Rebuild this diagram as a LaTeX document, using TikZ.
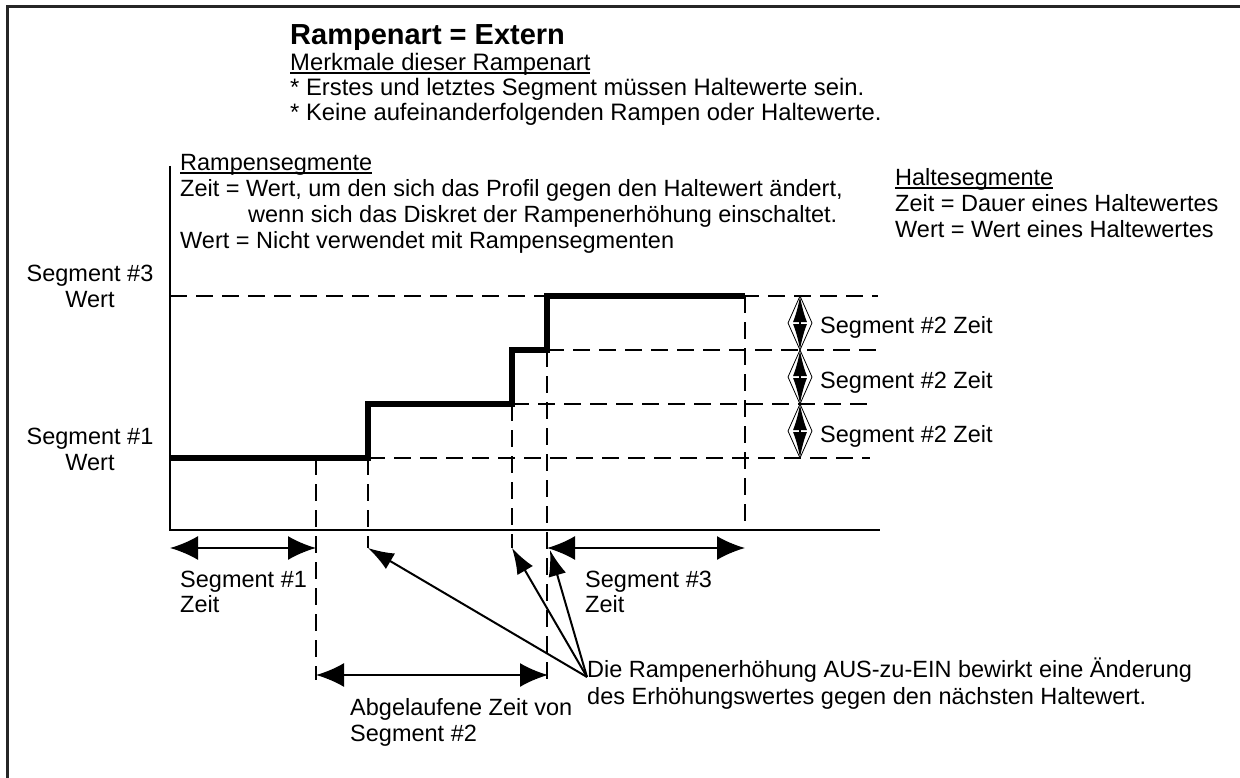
\documentclass[tikz,border=0pt]{standalone}
\usepackage{fontspec}
\setmainfont{Liberation Sans}
\usetikzlibrary{arrows.meta,calc}
\newcommand{\tst}{\rule{0pt}{21pt}}
\newcommand{\tsts}{\rule{0pt}{16pt}}
\newcommand{\ulx}[1]{\sbox0{#1}\rlap{\rule[-3.5pt]{\wd0}{1.6pt}}\usebox0}
\begin{document}
\begin{tikzpicture}[x=1pt,y=-1pt,
  txt/.style={inner sep=0pt, anchor=north west, align=left, font=\fontsize{23.5}{26}\selectfont},
  ltxt/.style={inner sep=0pt, anchor=base west, font=\fontsize{23.5}{26}\selectfont},
  ctxt/.style={txt, anchor=north, align=center},
  gridline/.style={line width=1.8pt, dash pattern=on 17pt off 9pt},
  axisline/.style={line width=2pt},
  profile/.style={line width=6pt, line join=miter},
  dimarrow/.style={line width=2pt, {Latex[length=28pt,width=24pt]}-{Latex[length=28pt,width=24pt]}},
  vdimarrow/.style={line width=2pt, {Latex[length=26pt,width=14pt]}-{Latex[length=26pt,width=14pt]}},
  diamondline/.style={line width=0.8pt},
  pointer/.style={line width=2pt, -{Latex[length=26pt,width=18pt]}}
]
\useasboundingbox (0,0) rectangle (1240,778);
% frame
\draw[line width=3pt, black!85] (7,778) -- (7,7) -- (1240,7);

% coordinates
\coordinate (ytop) at (170,166);
\coordinate (o) at (170,530);
\coordinate (xend) at (880,530);
\coordinate (s1) at (170,458);
\coordinate (a1) at (368,458);
\coordinate (a2) at (368,404);
\coordinate (b1) at (512,404);
\coordinate (b2) at (512,350);
\coordinate (c1) at (547,350);
\coordinate (c2) at (547,296);
\coordinate (e3) at (745,296);
\coordinate (h3l) at (170,296);
\coordinate (h3r) at (878,296);
\coordinate (h2r) at (878,350);
\coordinate (h1r) at (875,404);
\coordinate (h0r) at (870,458);
\coordinate (v1t) at (316,458);
\coordinate (v1b) at (316,680);
\coordinate (va) at (368,548);
\coordinate (vb) at (512,548);
\coordinate (vcb) at (547,680);
\coordinate (vet) at (745,530);
\coordinate (d0) at (800,296);
\coordinate (d1) at (800,350);
\coordinate (d2) at (800,404);
\coordinate (d3) at (800,458);
\coordinate (ar1l) at (170,548);
\coordinate (ar1r) at (316,548);
\coordinate (ar3l) at (547,548);
\coordinate (ar3r) at (745,548);
\coordinate (abl) at (316,675);
\coordinate (abr) at (548,675);
\coordinate (src) at (587,677);
\coordinate (pc) at (550,550);

% dashed grid
\draw[gridline] (h3l) -- (h3r);
\draw[gridline] (c1) -- (h2r);
\draw[gridline] (b1) -- (h1r);
\draw[gridline] (a1) -- (h0r);
\draw[gridline] (v1t) -- (v1b);
\draw[gridline] (a1) -- (va);
\draw[gridline] (b1) -- (vb);
\draw[gridline] (c1) -- (vcb);
\draw[gridline] (e3) -- (vet);

% axes
\draw[axisline] (ytop) -- (o) -- (xend);

% profile
\draw[profile] (s1) -- (a1) -- (a2) -- (b1) -- (b2) -- (c1) -- (c2) -- (e3);

% dimension arrows
\draw[dimarrow] (ar1l) -- (ar1r);
\draw[dimarrow] (ar3l) -- (ar3r);
\draw[dimarrow] (abl) -- (abr);
\foreach \p/\q in {d0/d1, d1/d2, d2/d3}{
  \draw[vdimarrow] (\p) -- (\q);
  \draw[diamondline] (\p) -- ($(\p)!0.5!(\q)+(12,0)$) -- (\q) -- ($(\p)!0.5!(\q)+(-12,0)$) -- cycle;
}

% pointer arrows
\draw[pointer] (src) -- (va);
\draw[pointer] (src) -- (vb);
\draw[pointer] (src) -- (pc);

% texts
\node[inner sep=0pt, anchor=base west, font=\fontsize{29}{32}\selectfont\bfseries] (title) at (290,45) {Rampenart = Extern};
\node[txt, font=\fontsize{23.8}{25}\selectfont] (merk) at (290,53) {\tsts\ulx{Merkmale dieser Rampenart}\\* Erstes und letztes Segment müssen Haltewerte sein.\\* Keine aufeinanderfolgenden Rampen oder Haltewerte.};
\node[txt] (rs) at (180,149) {\tst\ulx{Rampensegmente}\\Zeit = Wert, um den sich das Profil gegen den Haltewert ändert,\\\hspace*{68pt}wenn sich das Diskret der Rampenerhöhung einschaltet.\\Wert = Nicht verwendet mit Rampensegmenten};
\node[txt] (hs) at (895,164) {\tst\ulx{Haltesegmente}\\Zeit = Dauer eines Haltewertes\\Wert = Wert eines Haltewertes};
\node[ctxt] (s3w) at (90,260) {\tst Segment \#3\\Wert};
\node[ctxt] (s1w) at (90,423) {\tst Segment \#1\\Wert};
\node[ltxt] (z1) at (820,333) {Segment \#2 Zeit};
\node[ltxt] (z2) at (820,388) {Segment \#2 Zeit};
\node[ltxt] (z3) at (820,442) {Segment \#2 Zeit};
\node[txt, font=\fontsize{23.5}{25}\selectfont] (s1z) at (180,566) {\tst Segment \#1\\Zeit};
\node[txt, font=\fontsize{23.5}{25}\selectfont] (s3z) at (585,566) {\tst Segment \#3\\Zeit};
\node[txt] (abz) at (350,694) {\tst Abgelaufene Zeit von\\Segment \#2};
\node[txt, font=\fontsize{23.5}{27}\selectfont] (die) at (587,656) {\tst Die Rampenerhöhung AUS-zu-EIN bewirkt eine Änderung\\des Erhöhungswertes gegen den nächsten Haltewert.};
\end{tikzpicture}
\end{document}
